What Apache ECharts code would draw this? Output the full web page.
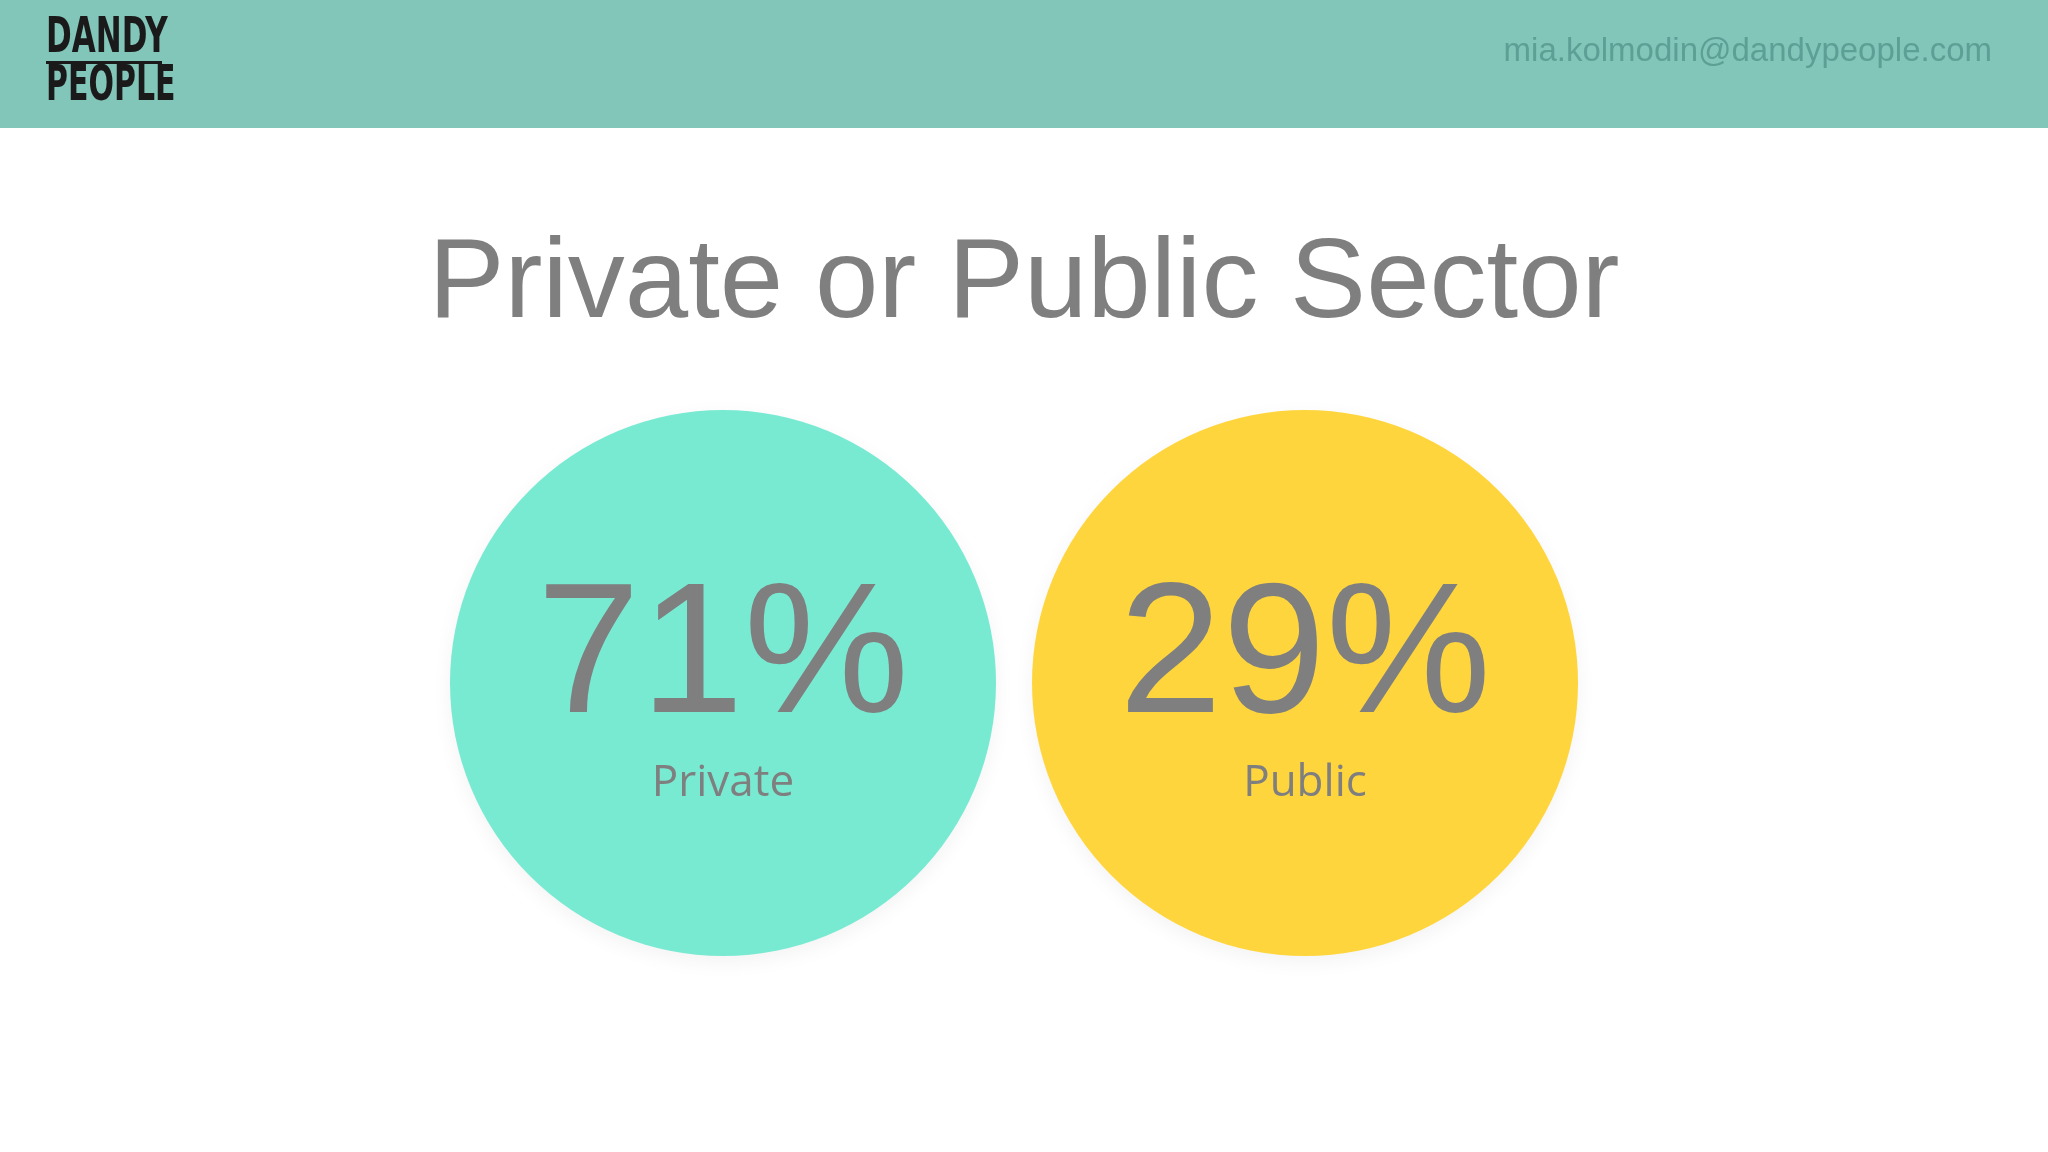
<!DOCTYPE html>
<html><head><meta charset="utf-8">
<script src="https://cdn.jsdelivr.net/npm/echarts@6/dist/echarts.min.js"></script>
<style>html,body{margin:0;padding:0;background:#fff}#c{width:2048px;height:1152px}</style>
</head><body><div id="c"></div>
<script>
const categories = ['Private', 'Public'];
const shares = [71, 29];
const colors = ['#79EAD2', '#FFD53D'];
const chart = echarts.init(document.getElementById('c'));
const logoFont = 'bold 50px "DejaVu Sans", sans-serif';
chart.setOption({
  backgroundColor: '#ffffff',
  graphic: [
    {type:'rect', shape:{x:0,y:0,width:2048,height:128}, style:{fill:'#82C5B9'}},
    {type:'text', x:46, y:14, scaleX:0.62, style:{text:'DANDY', font:logoFont, fill:'#1a1a1a'}},
    {type:'rect', shape:{x:46,y:61,width:116,height:3}, style:{fill:'#1a1a1a'}},
    {type:'text', x:46, y:62, scaleX:0.6, style:{text:'PEOPLE', font:logoFont, fill:'#1a1a1a'}},
    {type:'text', right:56, top:35, style:{text:'mia.kolmodin@dandypeople.com', font:'33px "Liberation Sans", Arial, sans-serif', fill:'#5E9F95'}},
    {type:'text', left:'center', top:229, style:{text:'Private or Public Sector', font:'114px "Liberation Sans", Arial, sans-serif', fill:'#7f7f7f'}}
  ],
  grid: {left: 432, width: 1164, top: 583, height: 200},
  xAxis: {type:'category', data: categories, show:false},
  yAxis: {type:'value', min:-1, max:1, show:false},
  series: [{
    type:'scatter',
    symbolSize: 546,
    data: shares.map((v,i)=>({value:[categories[i],0], itemStyle:{color:colors[i], opacity:1, shadowBlur:20, shadowColor:'rgba(0,0,0,0.05)', shadowOffsetY:6}})),
    label: {
      show:true, position:'inside',
      formatter: p => '{pct|' + shares[p.dataIndex] + '%}\n{name|' + categories[p.dataIndex] + '}',
      rich: {
        pct: {fontSize:186, lineHeight:200, color:'#7f7f7f', fontFamily:'"Liberation Sans", Arial, sans-serif'},
        name: {fontSize:44, lineHeight:44, color:'#7f7f7f', fontFamily:'"Open Sans", Lato, sans-serif'}
      }
    }
  }]
});
</script></body></html>
